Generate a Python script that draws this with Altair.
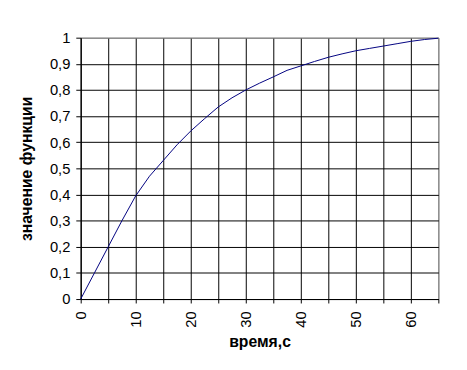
import altair as alt
import pandas as pd

time_s = [0, 2.5, 5, 7.5, 10, 12.5, 15, 17.5, 20, 22.5, 25, 27.5, 30, 32.5,
          35, 37.5, 40, 42.5, 45, 47.5, 50, 52.5, 55, 57.5, 60, 62.5, 65]
values = [0.0, 0.10, 0.20, 0.30, 0.395, 0.47, 0.53, 0.59, 0.643, 0.69, 0.735,
          0.77, 0.80, 0.826, 0.85, 0.875, 0.892, 0.909, 0.925, 0.938, 0.95,
          0.959, 0.968, 0.977, 0.986, 0.993, 0.998]
x_ticks = [0, 5, 10, 15, 20, 25, 30, 35, 40, 45, 50, 55, 60, 65]
y_ticks = [0.0, 0.1, 0.2, 0.3, 0.4, 0.5, 0.6, 0.7, 0.8, 0.9, 1.0]

df = pd.DataFrame({"t": time_s, "v": values})

FONT = "Liberation Sans"

x_axis = alt.Axis(
    values=x_ticks,
    title="время,с",
    labelAngle=270,
    labelExpr="datum.value % 10 == 0 ? datum.label : ''",
    tickSize=4,
    labelPadding=8,
    titlePadding=7,
    gridColor={"condition": {"test": "datum.value >= 65", "value": "#808080"}, "value": "black"},
)
y_axis = alt.Axis(
    values=y_ticks,
    title="значение функции",
    labelExpr="replace(format(datum.value, '.1~f'), '.', ',')",
    tickSize=5,
    labelPadding=6,
    titlePadding=15,
    gridColor={"condition": {"test": "datum.value >= 0.99", "value": "#808080"}, "value": "black"},
)

chart = alt.Chart(df).mark_line(color="#000080", strokeWidth=1).encode(
    x=alt.X("t:Q", scale=alt.Scale(domain=[0, 65], nice=False, zero=True), axis=x_axis),
    y=alt.Y("v:Q", scale=alt.Scale(domain=[0, 1], nice=False, zero=True), axis=y_axis),
).properties(
    width=364,
    height=266,
    padding={"left": 74, "top": 27, "right": 21, "bottom": 69},
    autosize="none",
    background="white",
).configure_view(
    stroke="#808080", strokeWidth=1
).configure_axis(
    domainColor="black",
    domainWidth=1,
    tickColor="black",
    tickWidth=1,
    gridWidth=1,
    gridOpacity=1,
    labelFont=FONT,
    labelFontSize=15,
    labelColor="black",
    titleFont=FONT,
    titleFontSize=16,
    titleFontWeight="bold",
    titleColor="black",
)

chart.save("out.html", embed_options={"renderer": "svg", "actions": False})
